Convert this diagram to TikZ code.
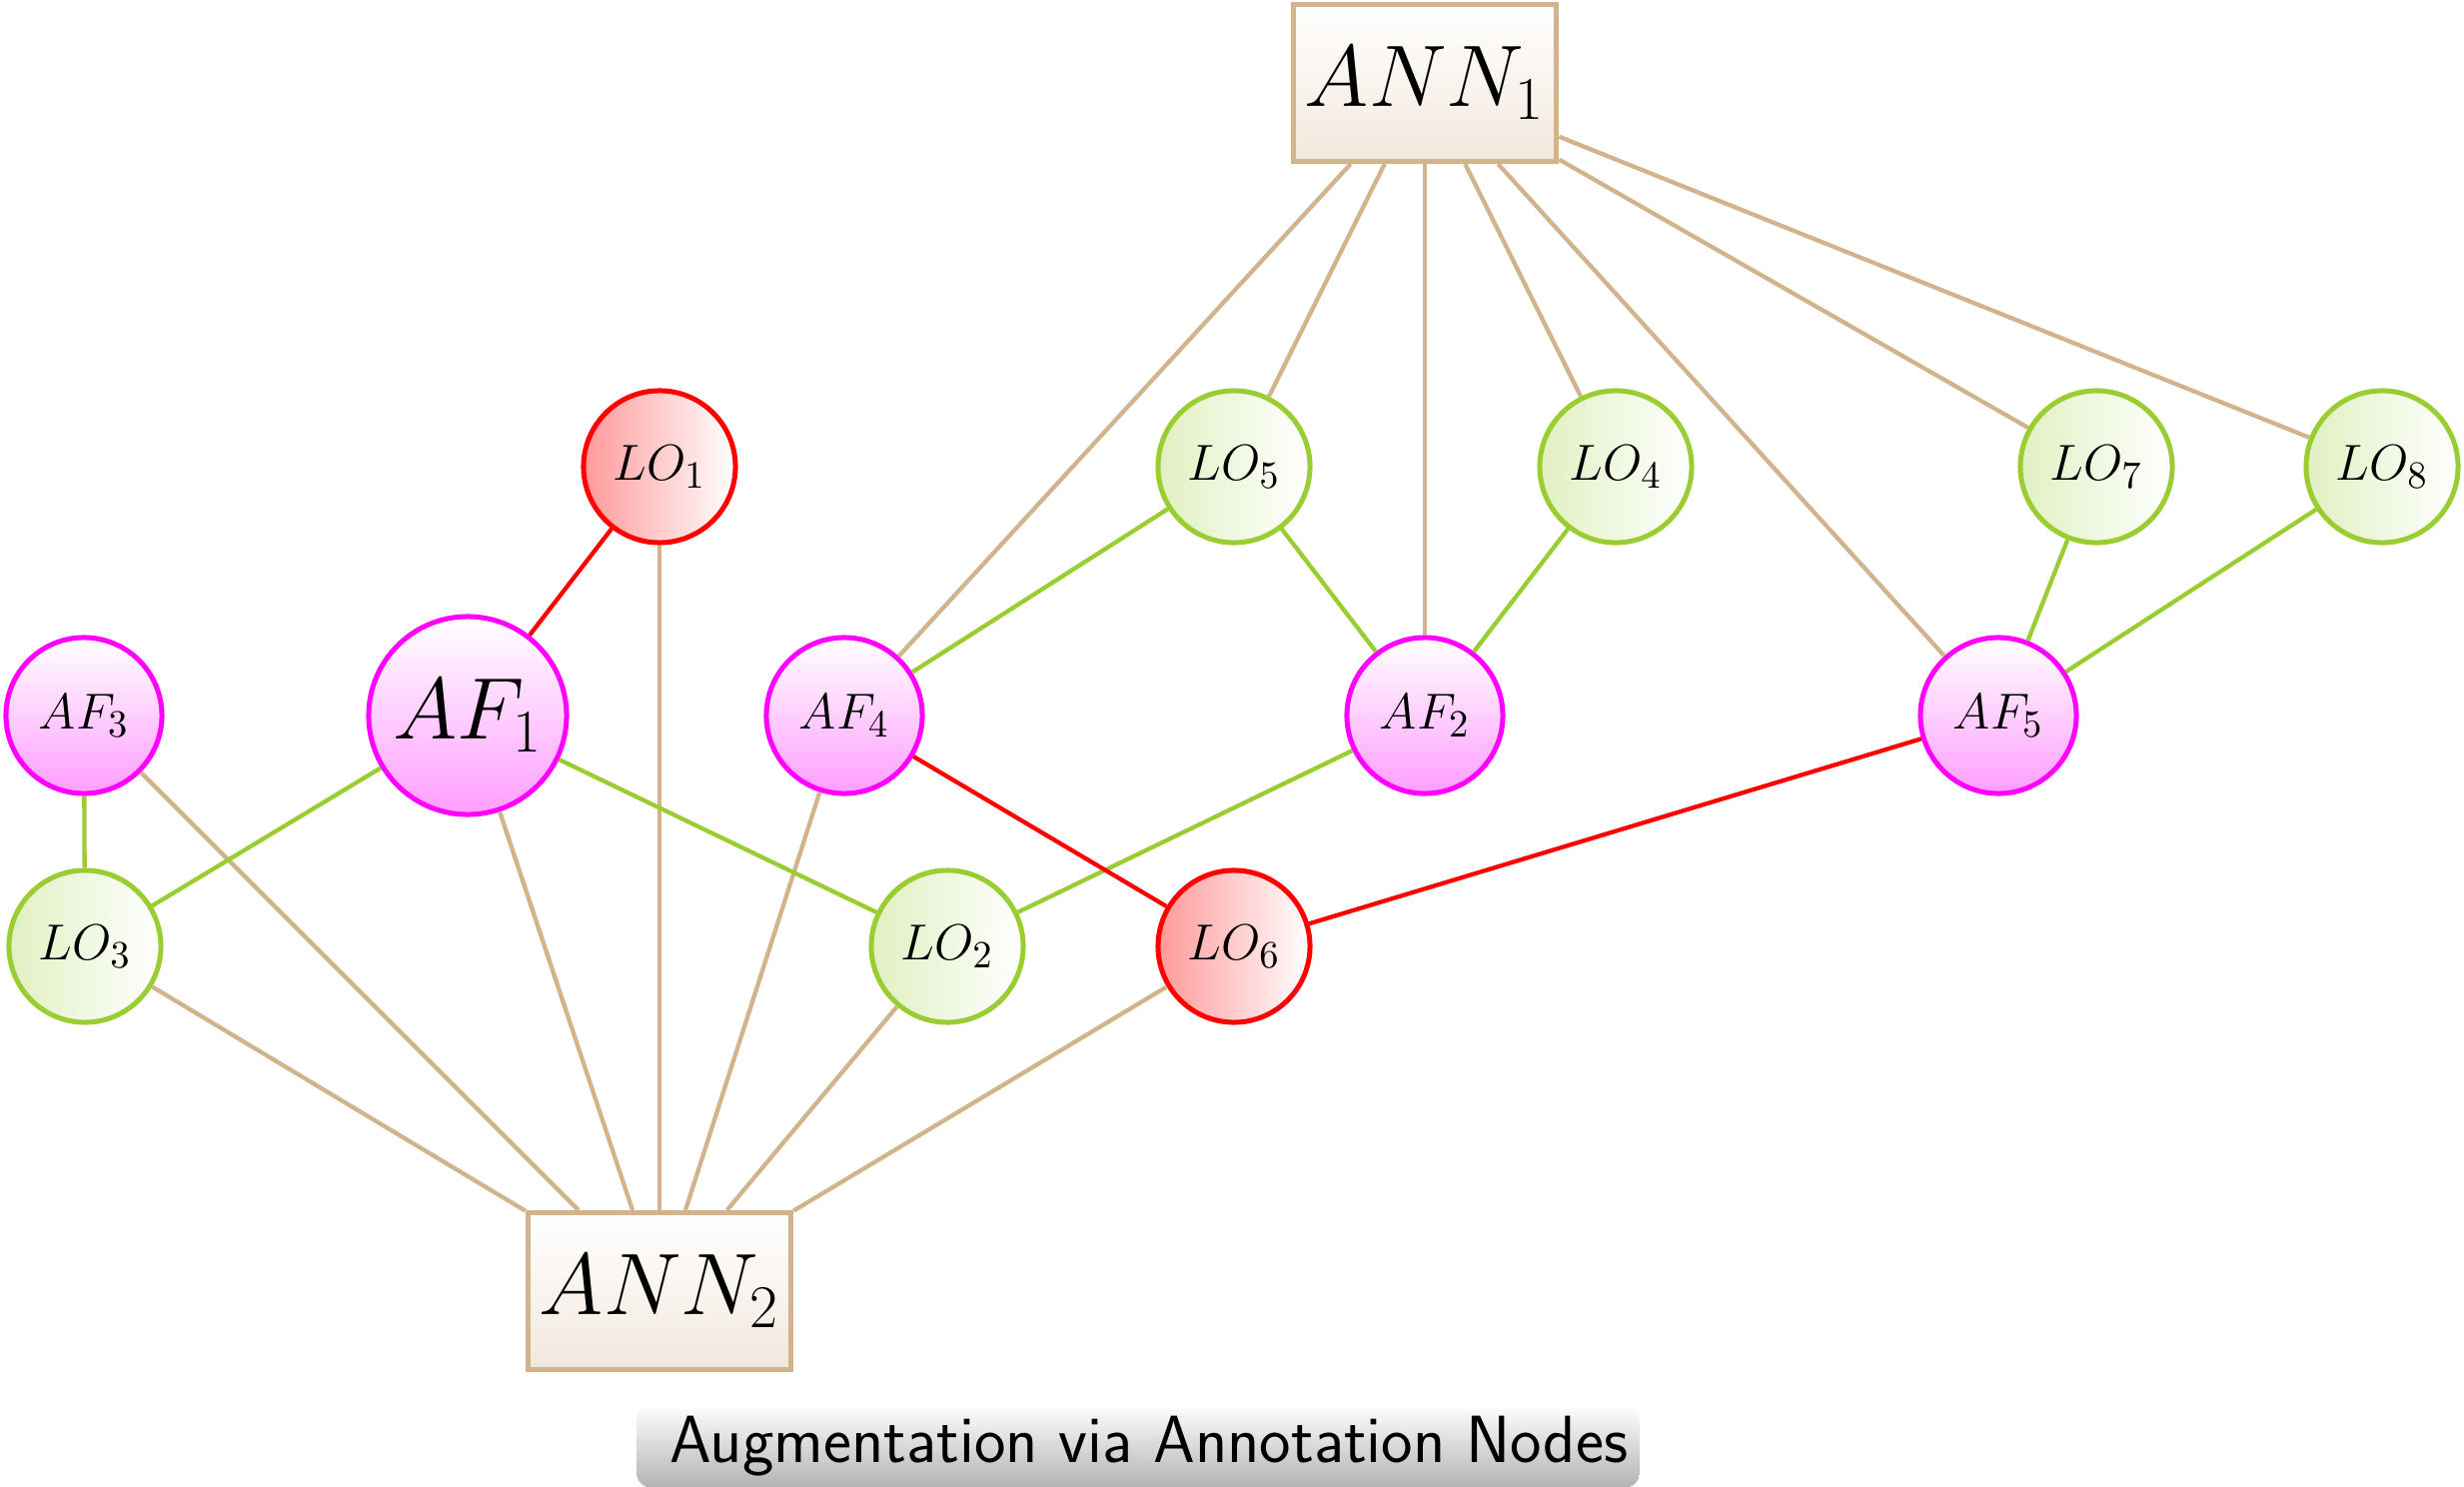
\documentclass[tikz,border=0pt]{standalone}
\definecolor{tanc}{RGB}{210,180,140}
\definecolor{ygreen}{RGB}{154,205,50}
\definecolor{mag}{RGB}{255,0,255}
\definecolor{redc}{RGB}{255,0,0}
\begin{document}
\begin{tikzpicture}[x=0.01cm,y=-0.01cm,
  edgetan/.style={draw=tanc,line width=0.043cm},
  edgegreen/.style={draw=ygreen,line width=0.043cm},
  edgered/.style={draw=redc,line width=0.043cm},
  annbox/.style={rectangle,draw=tanc,line width=0.05cm,top color=white,bottom color=tanc!30,minimum width=2.58cm,minimum height=1.57cm,font=\fontsize{24}{28}\selectfont},
  afnode/.style={circle,draw=mag,line width=0.05cm,top color=white,bottom color=mag!38,minimum size=1.56cm,inner sep=0pt,font=\fontsize{15.5}{18}\selectfont},
  bigaf/.style={afnode,minimum size=1.98cm,font=\fontsize{24}{28}\selectfont},
  lonode/.style={circle,draw=ygreen,line width=0.05cm,left color=ygreen!30,right color=white,minimum size=1.52cm,inner sep=0pt,font=\fontsize{15.5}{18}\selectfont},
  lored/.style={lonode,draw=redc,left color=redc!40,right color=white},
  captionbox/.style={rectangle,rounded corners=0.15cm,top color=white,bottom color=black!30,minimum width=10.03cm,minimum height=0.79cm,font=\sffamily\fontsize{19}{22}\selectfont}
]
\useasboundingbox (0,0) rectangle (2466,1488);
\node[annbox] (ann1) at (1426,83) {$ANN_1$};
\node[annbox] (ann2) at (660,1292) {$ANN_2$};
\node[lored] (lo1) at (660,467) {$LO_1$};
\node[lonode] (lo5) at (1235,467) {$LO_5$};
\node[lonode] (lo4) at (1617,467) {$LO_4$};
\node[lonode] (lo7) at (2098,467) {$LO_7$};
\node[lonode] (lo8) at (2384,467) {$LO_8$};
\node[afnode] (af3) at (84,716) {$AF_3$};
\node[bigaf] (af1) at (468,716) {$AF_1$};
\node[afnode] (af4) at (845,716) {$AF_4$};
\node[afnode] (af2) at (1426,716) {$AF_2$};
\node[afnode] (af5) at (2000,716) {$AF_5$};
\node[lonode] (lo3) at (85,947) {$LO_3$};
\node[lonode] (lo2) at (948,947) {$LO_2$};
\node[lored] (lo6) at (1235,947) {$LO_6$};
\node[captionbox] (cap) at (1139,1447) {\hspace*{0.22cm}Augmentation via Annotation Nodes};
% tan edges
\foreach \n in {af4,lo5,af2,lo4,af5,lo7,lo8} \draw[edgetan] (ann1) -- (\n);
\foreach \n in {lo3,af3,af1,lo1,af4,lo2,lo6} \draw[edgetan] (ann2) -- (\n);
% green edges
\draw[edgegreen] (af3) -- (lo3);
\draw[edgegreen] (af1) -- (lo3);
\draw[edgegreen] (af1) -- (lo2);
\draw[edgegreen] (af4) -- (lo5);
\draw[edgegreen] (lo5) -- (af2);
\draw[edgegreen] (lo4) -- (af2);
\draw[edgegreen] (af2) -- (lo2);
\draw[edgegreen] (lo7) -- (af5);
\draw[edgegreen] (lo8) -- (af5);
% red edges
\draw[edgered] (af1) -- (lo1);
\draw[edgered] (af4) -- (lo6);
\draw[edgered] (lo6) -- (af5);
\end{tikzpicture}
\end{document}
